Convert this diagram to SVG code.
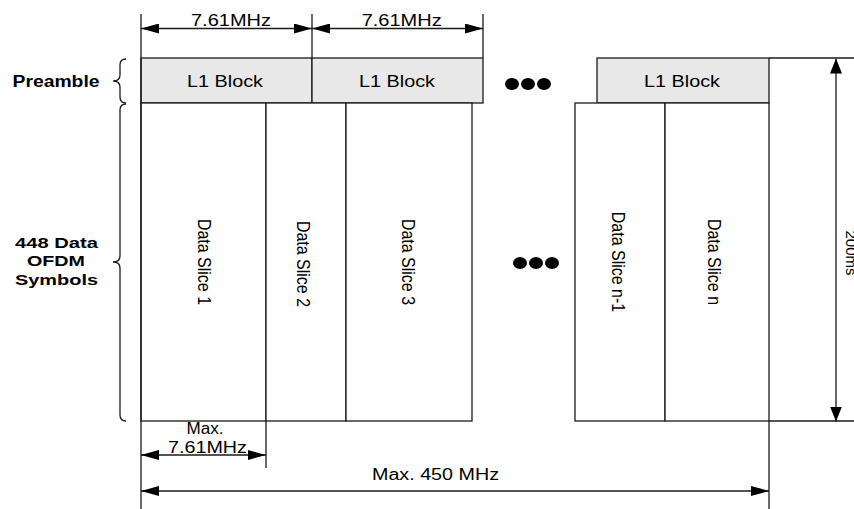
<svg xmlns="http://www.w3.org/2000/svg" width="854" height="509" viewBox="0 0 854 509">
<style>
.ln{stroke:#1a1a1a;stroke-width:1.3;fill:none}
.blk{fill:#e8e8e8;stroke:#1a1a1a;stroke-width:1.3}
.sl{fill:#fff;stroke:#1a1a1a;stroke-width:1.3}
.t{font-family:"Liberation Sans",Arial,sans-serif;fill:#000;text-anchor:middle}
.b{font-family:"Liberation Sans",Arial,sans-serif;fill:#000;font-weight:bold;text-anchor:middle}
.dot{fill:#000}
</style>
<defs>
<marker id="ah" viewBox="0 0 18 10" refX="18" refY="5" markerWidth="18" markerHeight="10" markerUnits="userSpaceOnUse" orient="auto-start-reverse">
<path d="M0,0 L18,5 L0,10 Z" fill="#000"/>
</marker>
<marker id="av" viewBox="0 0 15 12" refX="15" refY="6" markerWidth="15" markerHeight="12" markerUnits="userSpaceOnUse" orient="auto-start-reverse">
<path d="M0,0 L15,6 L0,12 Z" fill="#000"/>
</marker>
</defs>

<g id="preamble-label">
<text class="b" x="56" y="87" font-size="16" textLength="87" lengthAdjust="spacingAndGlyphs">Preamble</text>
<path class="ln" d="M126,59 Q120,59 120,65 L120,75 Q120,81 113,81 Q120,81 120,87 L120,97 Q120,103 126,103"/>
</g>
<g id="data-label">
<text class="b" x="56.5" y="247.5" font-size="15" textLength="83" lengthAdjust="spacingAndGlyphs">448 Data</text>
<text class="b" x="56" y="266" font-size="15" textLength="58" lengthAdjust="spacingAndGlyphs">OFDM</text>
<text class="b" x="56.5" y="284.5" font-size="15" textLength="83" lengthAdjust="spacingAndGlyphs">Symbols</text>
<path class="ln" d="M126,104 Q120,104 120,110 L120,256 Q120,262 113,262 Q120,262 120,268 L120,415 Q120,421 126,421"/>
</g>

<g id="l1-block-1">
<rect class="blk" x="141" y="58" width="171" height="45"/>
<text class="t" x="225" y="87.3" font-size="17" textLength="76" lengthAdjust="spacingAndGlyphs">L1 Block</text>
</g>
<g id="l1-block-2">
<rect class="blk" x="312" y="58" width="171" height="45"/>
<text class="t" x="397" y="87.3" font-size="17" textLength="76" lengthAdjust="spacingAndGlyphs">L1 Block</text>
</g>
<g id="l1-block-n">
<rect class="blk" x="597" y="58" width="172" height="45"/>
<text class="t" x="682" y="87.3" font-size="17" textLength="76" lengthAdjust="spacingAndGlyphs">L1 Block</text>
</g>

<g id="dots-top">
<ellipse class="dot" cx="512" cy="84" rx="7" ry="6"/>
<ellipse class="dot" cx="528" cy="84" rx="7" ry="6"/>
<ellipse class="dot" cx="544" cy="84" rx="7" ry="6"/>
</g>
<g id="dots-mid">
<ellipse class="dot" cx="520" cy="263" rx="7" ry="6"/>
<ellipse class="dot" cx="536" cy="263" rx="7" ry="6"/>
<ellipse class="dot" cx="552" cy="263" rx="7" ry="6"/>
</g>

<g id="slice-1">
<rect class="sl" x="141" y="103" width="125" height="318"/>
<text class="t" transform="translate(197.5,262) scale(1.1,1) rotate(90)" font-size="16">Data Slice 1</text>
</g>
<g id="slice-2">
<rect class="sl" x="266" y="103" width="80" height="318"/>
<text class="t" transform="translate(296.5,264) scale(1.1,1) rotate(90)" font-size="16">Data Slice 2</text>
</g>
<g id="slice-3">
<rect class="sl" x="346" y="103" width="126" height="318"/>
<text class="t" transform="translate(401.5,262) scale(1.1,1) rotate(90)" font-size="16">Data Slice 3</text>
</g>
<g id="slice-n-1">
<rect class="sl" x="575" y="103" width="90" height="318"/>
<text class="t" transform="translate(611.5,262) scale(1.1,1) rotate(90)" font-size="16">Data Slice n-1</text>
</g>
<g id="slice-n">
<rect class="sl" x="665" y="103" width="104" height="318"/>
<text class="t" transform="translate(707.5,262) scale(1.1,1) rotate(90)" font-size="16">Data Slice n</text>
</g>

<g id="connectors">
<line class="ln" x1="141" y1="14" x2="141" y2="509"/>
<line class="ln" x1="312" y1="14" x2="312" y2="58"/>
<line class="ln" x1="483" y1="14" x2="483" y2="58"/>
<line class="ln" x1="266" y1="421" x2="266" y2="468"/>
<line class="ln" x1="769" y1="421" x2="769" y2="509"/>
<line class="ln" x1="769" y1="58" x2="854" y2="58"/>
<line class="ln" x1="769" y1="421" x2="854" y2="421"/>
<line class="ln" x1="141" y1="28.5" x2="312" y2="28.5" marker-start="url(#ah)" marker-end="url(#ah)"/>
<line class="ln" x1="312" y1="28.5" x2="483" y2="28.5" marker-start="url(#ah)" marker-end="url(#ah)"/>
<line class="ln" x1="141" y1="455" x2="266" y2="455" marker-start="url(#ah)" marker-end="url(#ah)"/>
<line class="ln" x1="141" y1="491" x2="769" y2="491" marker-start="url(#ah)" marker-end="url(#ah)"/>
<line class="ln" x1="836" y1="58.5" x2="836" y2="421.5" marker-start="url(#av)" marker-end="url(#av)"/>
<text class="t" x="231" y="25.5" font-size="16" textLength="80" lengthAdjust="spacingAndGlyphs">7.61MHz</text>
<text class="t" x="401.7" y="25.5" font-size="16" textLength="80" lengthAdjust="spacingAndGlyphs">7.61MHz</text>
<text class="t" x="205" y="434" font-size="16" textLength="37" lengthAdjust="spacingAndGlyphs">Max.</text>
<text class="t" x="207.5" y="453" font-size="16" textLength="79" lengthAdjust="spacingAndGlyphs">7.61MHz</text>
<text class="t" x="435.5" y="480" font-size="16" textLength="127" lengthAdjust="spacingAndGlyphs">Max. 450 MHz</text>
<text class="t" transform="translate(846,253) rotate(90)" font-size="15">200ms</text>
</g>
</svg>
